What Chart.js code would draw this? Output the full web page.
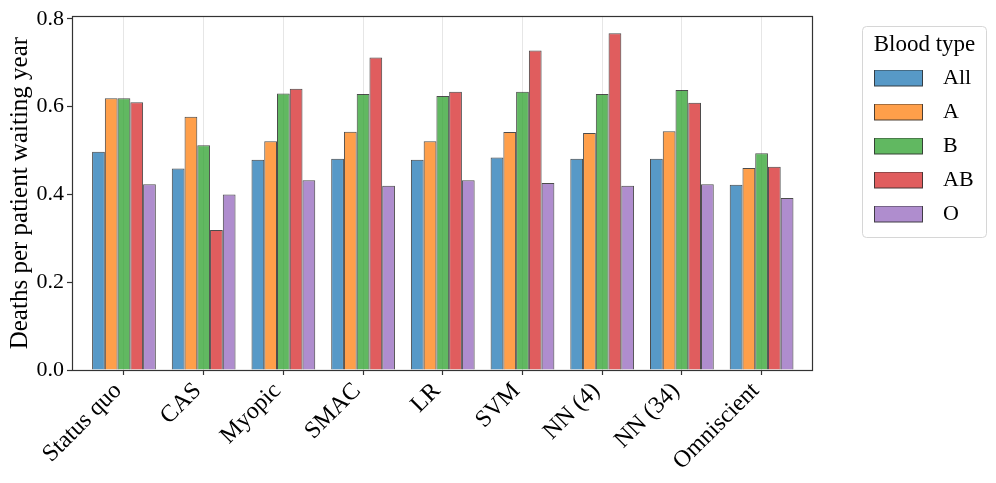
<!DOCTYPE html>
<html><head><meta charset="utf-8">
<script src="https://cdn.jsdelivr.net/npm/chart.js@4.4.1/dist/chart.umd.min.js"></script>
<style>html,body{margin:0;padding:0;background:#fff;}</style>
</head><body>
<canvas id="c" width="996" height="483" style="display:block;width:996px;height:483px"></canvas>
<script>
const categories = ['Status quo','CAS','Myopic','SMAC','LR','SVM','NN (4)','NN (34)','Omniscient'];
const seriesNames = ['All','A','B','AB','O'];
const allValues = [0.497,0.459,0.479,0.481,0.479,0.484,0.481,0.481,0.422];
const aValues   = [0.619,0.577,0.521,0.543,0.521,0.542,0.540,0.544,0.460];
const bValues   = [0.619,0.512,0.630,0.629,0.624,0.634,0.629,0.638,0.494];
const abValues  = [0.610,0.319,0.641,0.712,0.634,0.728,0.767,0.609,0.463];
const oValues   = [0.423,0.400,0.432,0.420,0.432,0.426,0.420,0.423,0.392];
const yTicks = [0.0,0.2,0.4,0.6,0.8];
const yTitle = 'Deaths per patient waiting year';
const legendTitle = 'Blood type';

const seriesValues = [allValues, aValues, bValues, abValues, oValues];
const colors = ['rgba(31,119,180,0.75)','rgba(255,127,14,0.75)','rgba(44,160,44,0.75)','rgba(214,39,40,0.75)','rgba(148,103,189,0.75)'];
const edge = 'rgba(0,0,0,0.7)';
const FONT = "'Liberation Serif', 'DejaVu Serif', serif";

function swatch(color){
  const c = document.createElement('canvas');
  c.width = 58; c.height = 18;
  const g = c.getContext('2d');
  g.fillStyle = color; g.fillRect(0.5,0.5,48,16);
  g.strokeStyle = edge; g.lineWidth = 1; g.strokeRect(0.5,0.5,48,16);
  return c;
}
const swatches = colors.map(swatch);

const datasets = seriesNames.map((name,i)=>({
  label: name,
  data: seriesValues[i].map((v,j)=>({x:j, y:v})),
  backgroundColor: colors[i],
  borderColor: edge,
  borderWidth: 1,
  borderSkipped: 'start',
  categoryPercentage: 0.8,
  barPercentage: 1.0
}));

const framePlugin = {
  id: 'frame',
  afterLayout(chart){
    const lg = chart.legend;
    lg.left = 862; lg.top = 26; lg.width = 125; lg.height = 300;
    lg.right = lg.left + lg.width; lg.bottom = lg.top + lg.height;
  },
  beforeDraw(chart){
    const ctx = chart.ctx;
    ctx.save();
    ctx.fillStyle = '#fff';
    ctx.fillRect(0,0,chart.width,chart.height);
    ctx.beginPath();
    ctx.roundRect(862.5, 26.5, 124, 211, 4);
    ctx.strokeStyle = '#d6d6d6';
    ctx.lineWidth = 1;
    ctx.stroke();
    ctx.restore();
  },
  afterDatasetsDraw(chart){
    const {ctx, chartArea:a} = chart;
    ctx.save();
    ctx.strokeStyle = '#333';
    ctx.lineWidth = 1.2;
    ctx.strokeRect(Math.round(a.left)+0.5, Math.round(a.top)+0.5, Math.round(a.right-a.left)-1, Math.round(a.bottom-a.top));
    ctx.restore();
  }
};

new Chart(document.getElementById('c'), {
  type: 'bar',
  data: { datasets },
  plugins: [framePlugin],
  options: {
    responsive: false,
    animation: false,
    devicePixelRatio: 1,
    layout: { padding: { top: 14, right: 183, left: 0, bottom: 0 } },
    plugins: {
      tooltip: { enabled: false },
      legend: {
        position: 'chartArea',
        align: 'start',
        maxHeight: 400,
        title: { display: true, text: legendTitle, color: '#000', position: 'center',
                 font: { family: FONT, size: 23, lineHeight: 1 }, padding: { top: 7.5, bottom: -1 } },
        labels: {
          color: '#000',
          font: { family: FONT, size: 22 },
          usePointStyle: true,
          pointStyleWidth: 58,
          boxHeight: 17,
          padding: 12,
          generateLabels(chart){
            const items = Chart.defaults.plugins.legend.labels.generateLabels(chart);
            items.forEach((it,i)=>{ it.pointStyle = swatches[i]; });
            return items;
          }
        }
      }
    },
    scales: {
      x: {
        type: 'linear',
        min: -0.652, max: 8.645,
        offset: false,
        afterFit(s){ s.height = 113; },
        afterBuildTicks(s){ s.ticks = categories.map((_,i)=>({value:i})); },
        border: { display: false },
        grid: { display: true, offset: false, color: '#e6e6e6', lineWidth: 1, drawTicks: true, tickLength: 5, tickColor: '#333', tickWidth: 1.2 },
        ticks: {
          autoSkip: false, minRotation: 45, maxRotation: 45, padding: 2, labelOffset: -6, color: '#000',
          font: { family: FONT, size: 24 },
          callback: (v)=> categories[v] ?? ''
        }
      },
      y: {
        min: 0, max: 0.806,
        afterFit(s){ s.width = 72; },
        afterBuildTicks(s){ s.ticks = yTicks.map(v=>({value:v})); },
        border: { display: false },
        grid: { drawOnChartArea: false, drawTicks: true, tickLength: 5, tickColor: '#333', tickWidth: 1.2 },
        ticks: { padding: 3, color: '#000', font: { family: FONT, size: 22 }, callback: (v)=> Number(v).toFixed(1) },
        title: { display: true, text: yTitle, color: '#000', font: { family: FONT, size: 25 }, padding: { top: 5, bottom: 0 } }
      }
    }
  }
});
</script>
</body></html>
